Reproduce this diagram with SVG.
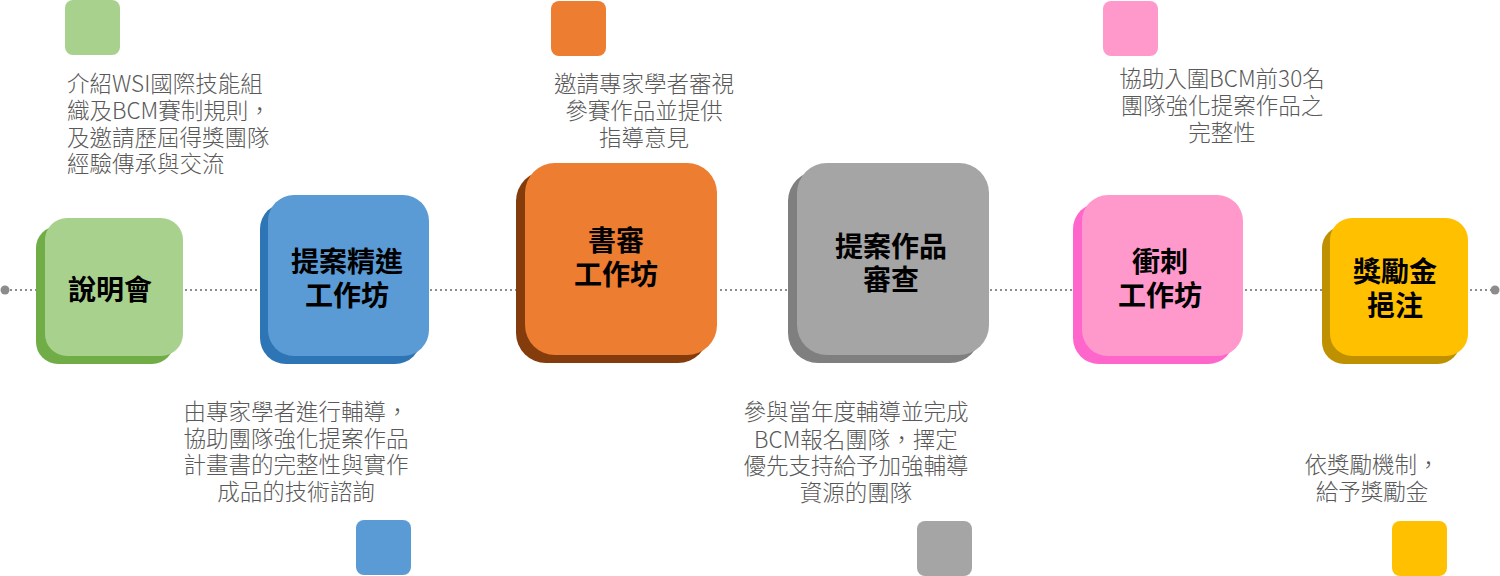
<svg xmlns="http://www.w3.org/2000/svg" width="1500" height="576" viewBox="0 0 1500 576">
<style>
.lbl{font-family:"Noto Sans CJK TC","Liberation Sans",sans-serif;font-weight:bold;font-size:28px;fill:#000;text-anchor:middle}
.desc{font-family:"Noto Sans CJK TC","Liberation Sans",sans-serif;font-weight:300;font-size:22.5px;fill:#595959}
.c{text-anchor:middle}
.l{text-anchor:start}
.line{stroke:#8c8c8c;stroke-width:2;stroke-dasharray:2 3;fill:none}
.dot{fill:#8c8c8c}
</style>
<rect width="1500" height="576" fill="#fff"/>
<g id="connectors">
<line class="line" x1="5" y1="290" x2="1495" y2="290"/>
<circle class="dot" cx="5" cy="290" r="4.5"/>
<circle class="dot" cx="1495" cy="290" r="4.5"/>
</g>
<g id="node-1">
<rect x="36" y="226" width="138" height="138" rx="22" fill="#70AD47"/>
<rect x="45" y="218" width="138" height="138" rx="22" fill="#A9D18E"/>
<text class="lbl" x="110" y="300">說明會</text>
<rect x="65" y="0" width="55" height="55" rx="8" fill="#A9D18E"/>
<text class="desc l" x="67"><tspan x="67" y="92">介紹WSI國際技能組</tspan><tspan x="67" y="119">織及BCM賽制規則，</tspan><tspan x="67" y="146">及邀請歷屆得獎團隊</tspan><tspan x="67" y="172">經驗傳承與交流</tspan></text>
</g>
<g id="node-2">
<rect x="260" y="203" width="161" height="161" rx="26" fill="#2E75B6"/>
<rect x="268" y="195" width="161" height="161" rx="26" fill="#5B9BD5"/>
<text class="lbl" x="347" y="272">提案精進</text>
<text class="lbl" x="347" y="306">工作坊</text>
<rect x="356" y="520" width="55" height="55" rx="8" fill="#5B9BD5"/>
<text class="desc c"><tspan x="296" y="420">由專家學者進行輔導，</tspan><tspan x="296" y="447">協助團隊強化提案作品</tspan><tspan x="296" y="473">計畫書的完整性與實作</tspan><tspan x="296" y="500">成品的技術諮詢</tspan></text>
</g>
<g id="node-3">
<rect x="516" y="171" width="192" height="192" rx="30" fill="#843C0C"/>
<rect x="525" y="163" width="192" height="192" rx="30" fill="#ED7D31"/>
<text class="lbl" x="616" y="251">書審</text>
<text class="lbl" x="616" y="285">工作坊</text>
<rect x="551" y="1" width="55" height="55" rx="8" fill="#ED7D31"/>
<text class="desc c"><tspan x="644" y="92">邀請專家學者審視</tspan><tspan x="644" y="119">參賽作品並提供</tspan><tspan x="644" y="146">指導意見</tspan></text>
</g>
<g id="node-4">
<rect x="788" y="171" width="192" height="192" rx="30" fill="#7F7F7F"/>
<rect x="797" y="163" width="192" height="192" rx="30" fill="#A5A5A5"/>
<text class="lbl" x="891" y="257">提案作品</text>
<text class="lbl" x="891" y="290">審查</text>
<rect x="917" y="521" width="55" height="55" rx="8" fill="#A5A5A5"/>
<text class="desc c"><tspan x="856" y="420">參與當年度輔導並完成</tspan><tspan x="856" y="448">BCM報名團隊，擇定</tspan><tspan x="856" y="474">優先支持給予加強輔導</tspan><tspan x="856" y="501">資源的團隊</tspan></text>
</g>
<g id="node-5">
<rect x="1073" y="203" width="161" height="161" rx="26" fill="#FF66CC"/>
<rect x="1082" y="195" width="161" height="161" rx="26" fill="#FF99CC"/>
<text class="lbl" x="1160" y="272">衝刺</text>
<text class="lbl" x="1160" y="306">工作坊</text>
<rect x="1103" y="1" width="55" height="55" rx="8" fill="#FF99CC"/>
<text class="desc c"><tspan x="1222" y="87">協助入圍BCM前30名</tspan><tspan x="1222" y="114">團隊強化提案作品之</tspan><tspan x="1222" y="141">完整性</tspan></text>
</g>
<g id="node-6">
<rect x="1322" y="226" width="138" height="138" rx="22" fill="#BF9000"/>
<rect x="1330" y="218" width="138" height="138" rx="22" fill="#FFC000"/>
<text class="lbl" x="1395" y="282">獎勵金</text>
<text class="lbl" x="1395" y="316">挹注</text>
<rect x="1392" y="521" width="55" height="55" rx="8" fill="#FFC000"/>
<text class="desc c"><tspan x="1372" y="473">依獎勵機制，</tspan><tspan x="1372" y="500">給予獎勵金</tspan></text>
</g>
</svg>
